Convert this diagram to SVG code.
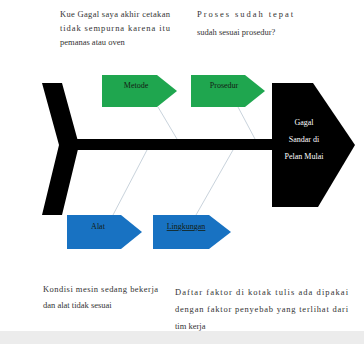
<svg xmlns="http://www.w3.org/2000/svg" width="364" height="344" viewBox="0 0 364 344">
  <style>
    .note { font-family: "Liberation Serif", "DejaVu Serif", serif; font-size: 8.5px; fill: #333333; }
    .lbl { font-family: "Liberation Serif", "DejaVu Serif", serif; font-size: 8px; fill: #142014; text-anchor: middle; }
    .head { font-family: "Liberation Serif", "DejaVu Serif", serif; font-size: 8px; fill: #ffffff; text-anchor: middle; }
    .bone { stroke: #c9d3dc; stroke-width: 1; fill: none; }
    .green { fill: #1fa64f; }
    .blue { fill: #1872c2; }
  </style>
  <rect x="0" y="0" width="364" height="344" fill="#ffffff"/>
  <rect x="0" y="331" width="364" height="13" fill="#ececec"/>

  <g id="connectors">
    <line class="bone" x1="158" y1="107" x2="177" y2="139"/>
    <line class="bone" x1="238" y1="107" x2="255" y2="139"/>
    <line class="bone" x1="147" y1="150" x2="113" y2="215"/>
    <line class="bone" x1="233" y1="150" x2="196" y2="215"/>
  </g>

  <g id="tail">
    <polygon points="42,83 62,83 79,145 62,215 42,215 59,145" fill="#000"/>
  </g>
  <g id="spine">
    <rect x="74" y="139" width="200" height="11" fill="#000"/>
  </g>
  <g id="head">
    <polygon points="272,83 313,83 355,145 318,207 272,207" fill="#000"/>
    <text class="head" x="304" y="125">Gagal</text>
    <text class="head" x="304" y="142">Sandar di</text>
    <text class="head" x="304" y="159">Pelan Mulai</text>
  </g>

  <g id="metode">
    <polygon class="green" points="102,75 157,75 177,91 157,107 102,107"/>
    <text class="lbl" x="136" y="88">Metode</text>
  </g>
  <g id="prosedur">
    <polygon class="green" points="191,75 245,75 265,91 245,107 191,107"/>
    <text class="lbl" x="224" y="88">Prosedur</text>
  </g>
  <g id="alat">
    <polygon class="blue" points="67,215 121,215 142,232 121,249 67,249"/>
    <text class="lbl" x="98" y="229">Alat</text>
  </g>
  <g id="lingkungan">
    <polygon class="blue" points="153,215 209,215 231,232 209,249 153,249"/>
    <text class="lbl" x="186" y="229" text-decoration="underline">Lingkungan</text>
  </g>

  <g id="note-top-left">
    <text class="note" x="60" y="17" textLength="110" lengthAdjust="spacing">Kue Gagal saya akhir cetakan</text>
    <text class="note" x="60" y="31" textLength="110" lengthAdjust="spacing">tidak sempurna karena itu</text>
    <text class="note" x="60" y="45">pemanas atau oven</text>
  </g>
  <g id="note-top-right">
    <text class="note" x="197" y="17" textLength="96" lengthAdjust="spacing">Proses sudah tepat</text>
    <text class="note" x="197" y="35">sudah sesuai prosedur?</text>
  </g>
  <g id="note-bottom-left">
    <text class="note" x="43" y="292" textLength="115" lengthAdjust="spacing">Kondisi mesin sedang bekerja</text>
    <text class="note" x="43" y="308">dan alat tidak sesuai</text>
  </g>
  <g id="note-bottom-right">
    <text class="note" x="175" y="295" textLength="173" lengthAdjust="spacing">Daftar faktor di kotak tulis ada dipakai</text>
    <text class="note" x="175" y="312" textLength="173" lengthAdjust="spacing">dengan faktor penyebab yang terlihat dari</text>
    <text class="note" x="175" y="329">tim kerja</text>
  </g>
</svg>
